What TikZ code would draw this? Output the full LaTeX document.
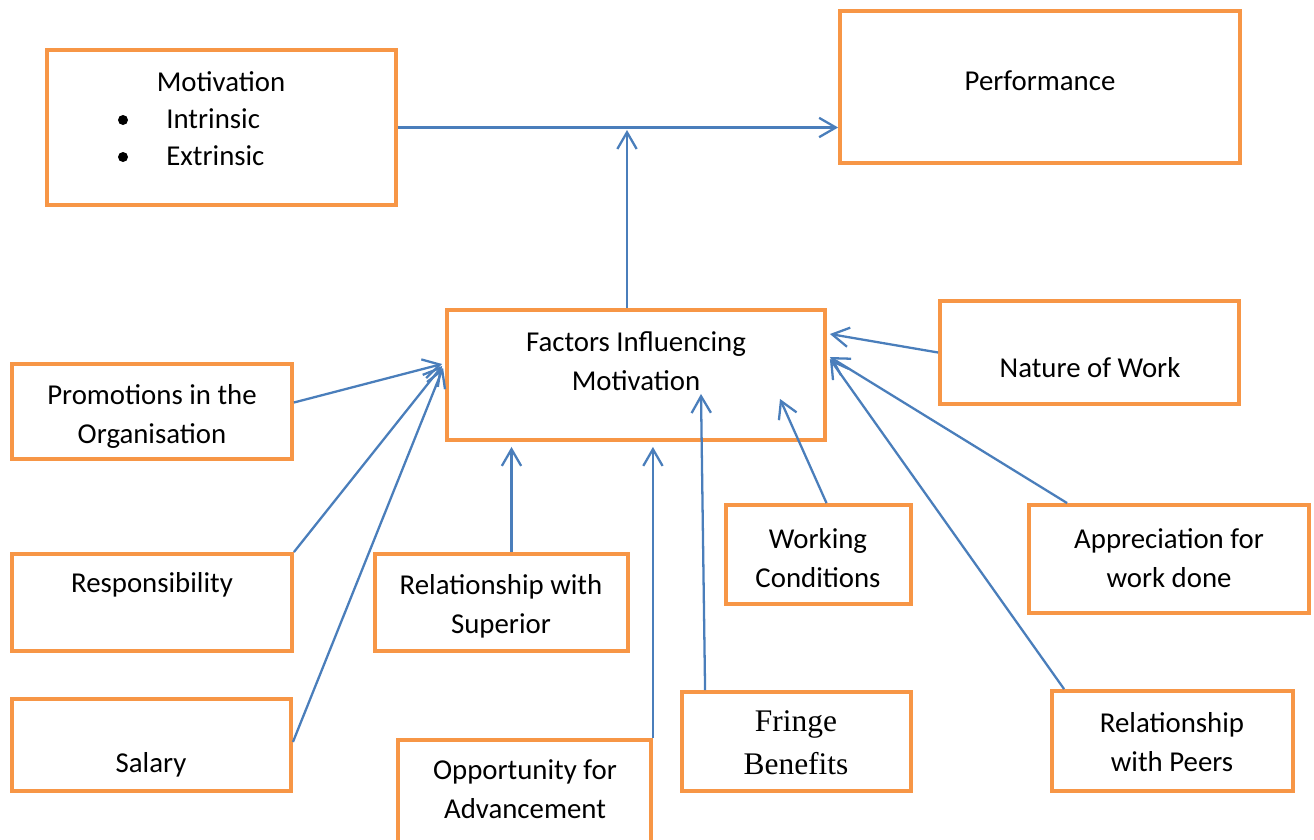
\documentclass[tikz,border=0pt]{standalone}
\usepackage{fontspec}
\setmainfont{Carlito}
\newfontfamily\serifbox{Liberation Serif}
\usetikzlibrary{arrows.meta,calc}
\definecolor{boxorange}{HTML}{F79646}
\definecolor{arrblue}{HTML}{4A7EBB}

\begin{document}
\begin{tikzpicture}[x=0.02cm, y=-0.02cm,
  box/.style={draw=boxorange, line width=2.5pt, inner sep=0pt},
  txt/.style={anchor=base, align=center, inner sep=0pt, font=\fontsize{16.4}{22.2}\selectfont},
  bul/.style={circle, fill=black, inner sep=0pt, minimum size=0.2cm},
  arr/.style={draw=arrblue, line width=1.3pt, -{Straight Barb[length=9.5pt,width=11pt]}}]

\useasboundingbox (0,0) rectangle (1314,839);

\node (motiv) [box, minimum width=6.97cm, minimum height=3.09cm] at (221.5,127.5) {};
\node (perf) [box, minimum width=7.99cm, minimum height=3.03cm] at (1040,87) {};
\node (factors) [box, minimum width=7.55cm, minimum height=2.59cm] at (636,375) {};
\node (nature) [box, minimum width=5.97cm, minimum height=2.05cm] at (1089.5,352.5) {};
\node (promo) [box, minimum width=5.59cm, minimum height=1.89cm] at (152,411.5) {};
\node (resp) [box, minimum width=5.59cm, minimum height=1.93cm] at (152,602.5) {};
\node (salary) [box, minimum width=5.57cm, minimum height=1.83cm] at (151.5,745) {};
\node (superior) [box, minimum width=5.05cm, minimum height=1.93cm] at (501.5,602.5) {};
\node (oppor) [box, minimum width=5.05cm, minimum height=2.12cm] at (524.5,793) {};
\node (fringe) [box, minimum width=4.57cm, minimum height=1.97cm] at (796.5,741.5) {};
\node (working) [box, minimum width=3.69cm, minimum height=1.97cm] at (818.5,554.5) {};
\node (apprec) [box, minimum width=5.59cm, minimum height=2.15cm] at (1169,559) {};
\node (peers) [box, minimum width=4.81cm, minimum height=1.99cm] at (1172.5,741) {};

\node (motivt) [txt] at (221,91) {Motivation};
\node (b1) [bul] at (123,120) {};
\node (intr) [txt, anchor=base west] at (166,128) {Intrinsic};
\node (b2) [bul] at (123,157) {};
\node (extr) [txt, anchor=base west] at (166,165) {Extrinsic};
\node (perft) [txt] at (1040,90) {Performance};
\node (factt) [txt] at (636,390) {Factors Influencing\\Motivation};
\node (naturet) [txt] at (1090,377) {Nature of Work};
\node (promot) [txt] at (152,443) {Promotions in the\\Organisation};
\node (respt) [txt] at (152,592) {Responsibility};
\node (salaryt) [txt] at (151,772) {Salary};
\node (supt) [txt] at (501,633) {Relationship with\\Superior};
\node (oppt) [txt] at (525,818) {Opportunity for\\Advancement};
\node (fringet) [txt, font=\serifbox\fontsize{17.9}{24}\selectfont] at (796,774) {Fringe\\Benefits};
\node (workt) [txt] at (818,587) {Working\\Conditions};
\node (apprt) [txt] at (1169,587) {Appreciation for\\work done};
\node (peerst) [txt] at (1172,771) {Relationship\\with Peers};

\coordinate (fup) at ($(factors.north)+(-9,0)$);
\coordinate (supup) at ($(superior.north)+(10,0)$);

\draw[arr] (motiv.east) to (motiv.east -| perf.west);
\draw[arr, shorten >=0.05cm] (fup) to (fup |- motiv.east);
\draw[arr] ($(promo.east)+(0,-9)$) to ($(factors.west)+(-3,-11)$);
\draw[arr] (resp.north east) to ($(factors.west)+(-3,-9)$);
\draw[arr] ($(salary.east)+(0,-3)$) to ($(factors.west)+(-2,-7)$);
\draw[arr, shorten >=0.1cm] (supup) to (supup |- factors.south);
\draw[arr, shorten >=0.1cm] (oppor.north east) to (oppor.north east |- factors.south);
\draw[arr] ($(fringe.north west)+(25,0)$) to ($(factors.south)+(65,-48)$);
\draw[arr] ($(working.north)+(8,0)$) to ($(factors.south)+(144,-43)$);
\draw[arr] (nature.west) to ($(factors.east)+(3,-41)$);
\draw[arr] ($(apprec.north west)+(40,0)$) to ($(factors.east)+(3,-18)$);
\draw[arr] ($(peers.north west)+(14,0)$) to ($(factors.east)+(3,-16)$);
\end{tikzpicture}
\end{document}
